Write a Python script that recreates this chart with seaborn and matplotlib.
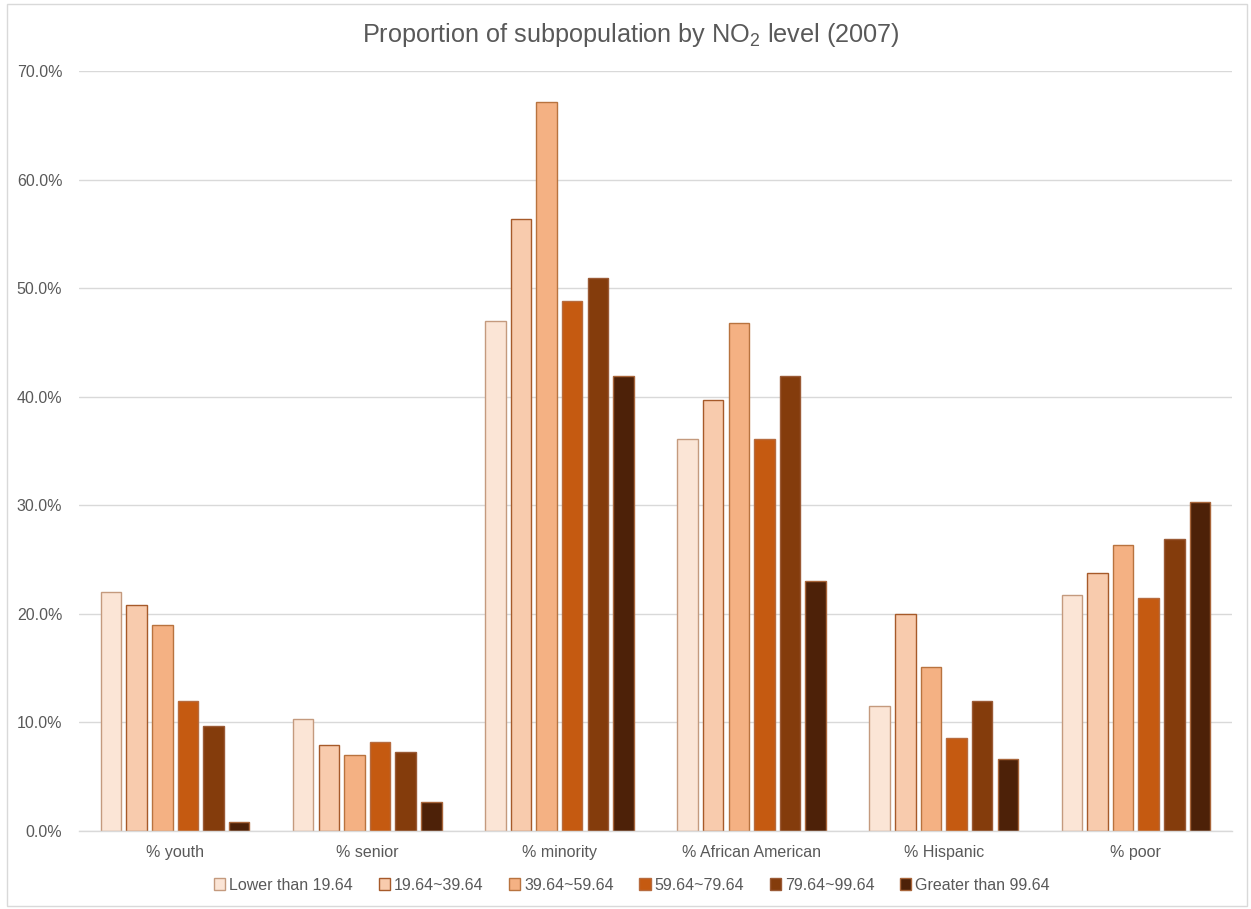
import matplotlib
matplotlib.use("Agg")
import matplotlib.pyplot as plt
from matplotlib.patches import Patch, Rectangle
from matplotlib.ticker import FuncFormatter
import seaborn as sns
import pandas as pd

# ---- data ----
categories = ["% youth", "% senior", "% minority", "% African American", "% Hispanic", "% poor"]
levels = ["Lower than 19.64", "19.64~39.64", "39.64~59.64", "59.64~79.64", "79.64~99.64", "Greater than 99.64"]
lower_19 = [22.0, 10.3, 47.0, 36.1, 11.5, 21.7]
l19_39 = [20.8, 7.9, 56.4, 39.7, 20.0, 23.8]
l39_59 = [19.0, 7.0, 67.1, 46.8, 15.1, 26.3]
l59_79 = [12.0, 8.2, 48.8, 36.1, 8.6, 21.5]
l79_99 = [9.7, 7.3, 50.9, 41.9, 12.0, 26.9]
greater_99 = [0.8, 2.7, 41.9, 23.0, 6.6, 30.3]
series = [lower_19, l19_39, l39_59, l59_79, l79_99, greater_99]

fill_colors = ["#FBE5D6", "#F8CBAD", "#F4B183", "#C55A11", "#843C0C", "#4D2108"]
edge_colors = ["#C49A7E", "#A65A2A", "#B8733F", "#B76B3E", "#9A5A35", "#A8653A"]

rows = []
for lvl, vals in zip(levels, series):
    for cat, v in zip(categories, vals):
        rows.append({"category": cat, "level": lvl, "value": v / 100.0})
df = pd.DataFrame(rows)

sns.set_style("white")
plt.rcParams["font.family"] = ["Liberation Sans", "DejaVu Sans"]
plt.rcParams["mathtext.default"] = "regular"

W, H = 1251, 909
fig = plt.figure(figsize=(W / 100, H / 100), dpi=100)
ax = fig.add_axes([79 / W, (H - 831) / H, (1232 - 79) / W, (831 - 71) / H])

sns.barplot(data=df, x="category", y="value", hue="level", order=categories,
            hue_order=levels, palette=fill_colors, saturation=1, width=0.8, gap=0.2,
            legend=False, ax=ax, linewidth=1)

for cont, ec in zip(ax.containers, edge_colors):
    for bar in cont:
        bar.set_edgecolor(ec)
        bar.set_linewidth(1.0)

ax.set_ylim(0, 0.70)
ax.set_xlim(-0.5, len(categories) - 0.5)
ax.set_yticks([i / 10 for i in range(8)])
ax.yaxis.set_major_formatter(FuncFormatter(lambda v, p: f"{v*100:.1f}%"))
ax.grid(axis="y", color="#D9D9D9", linewidth=1)
ax.set_axisbelow(True)
for s in ["top", "right", "left"]:
    ax.spines[s].set_visible(False)
ax.spines["bottom"].set_color("#D9D9D9")
ax.spines["bottom"].set_linewidth(1)
ax.tick_params(axis="both", length=0, labelsize=11.5, colors="#595959")
ax.tick_params(axis="y", pad=12)
ax.tick_params(axis="x", pad=10)
ax.set_xlabel("")
ax.set_ylabel("")

fig.text(630.5 / W, (H - 35) / H, "Proportion of subpopulation by NO$_2$ level (2007)",
         ha="center", va="center", fontsize=18.2, color="#595959")

handles = [Patch(facecolor=fc, edgecolor=ec, linewidth=1) for fc, ec in zip(fill_colors, edge_colors)]
fig.legend(handles, levels, loc="center", bbox_to_anchor=(632 / W, (H - 885) / H),
           ncol=6, frameon=False, fontsize=11.5, handlelength=0.7, handleheight=0.7,
           handletextpad=0.25, columnspacing=1.6, labelcolor="#595959")

fig.patches.append(Rectangle((7 / W, 3 / H), (W - 11) / W, (H - 7) / H,
                             transform=fig.transFigure, fill=False,
                             edgecolor="#D9D9D9", linewidth=1))

fig.savefig("out.png", dpi=100, facecolor="white")
